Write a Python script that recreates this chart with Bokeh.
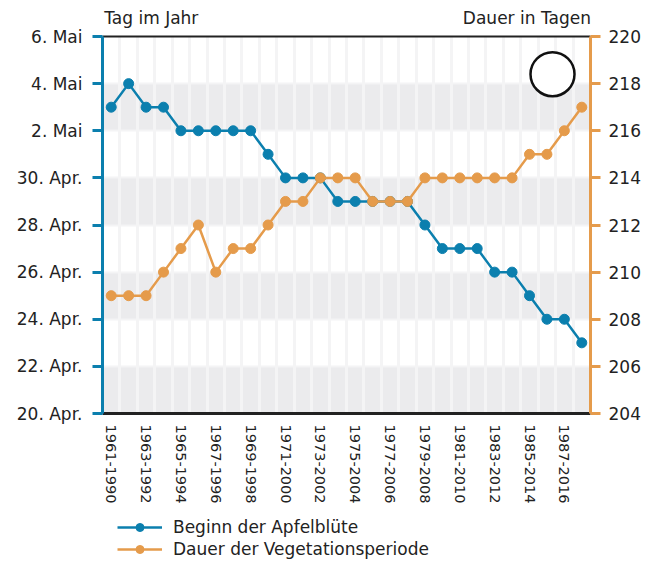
from bokeh.plotting import figure
from bokeh.layouts import column
from bokeh.models import Range1d, LinearAxis, FixedTicker, Legend, LegendItem, BoxAnnotation
from bokeh.embed import file_html
from bokeh.resources import INLINE

# ---- data ----
periods = ["1961-1990", "1962-1991", "1963-1992", "1964-1993", "1965-1994", "1966-1995",
           "1967-1996", "1968-1997", "1969-1998", "1970-1999", "1971-2000", "1972-2001",
           "1973-2002", "1974-2003", "1975-2004", "1976-2005", "1977-2006", "1978-2007",
           "1979-2008", "1980-2009", "1981-2010", "1982-2011", "1983-2012", "1984-2013",
           "1985-2014", "1986-2015", "1987-2016", "1988-2017"]
# Beginn der Apfelblüte, day of year (110 = 20. Apr., 126 = 6. Mai)
bluete = [123, 124, 123, 123, 122, 122, 122, 122, 122, 121, 120, 120, 120, 119,
          119, 119, 119, 119, 118, 117, 117, 117, 116, 116, 115, 114, 114, 113]
# Dauer der Vegetationsperiode, days
dauer = [209, 209, 209, 210, 211, 212, 210, 211, 211, 212, 213, 213, 214, 214,
         214, 213, 213, 213, 214, 214, 214, 214, 214, 214, 215, 215, 216, 217]
left_ticks = [110, 112, 114, 116, 118, 120, 122, 124, 126]
left_labels = ["20. Apr.", "22. Apr.", "24. Apr.", "26. Apr.", "28. Apr.",
               "30. Apr.", "2. Mai", "4. Mai", "6. Mai"]
right_ticks = [204, 206, 208, 210, 212, 214, 216, 218, 220]
right_labels = ["204", "206", "208", "210", "212", "214", "216", "218", "220"]
left_title = "Tag im Jahr"
right_title = "Dauer in Tagen"
series_names = ["Beginn der Apfelblüte", "Dauer der Vegetationsperiode"]
title_pos = [2.3, 23.85]          # x positions (category units) of the two axis titles
circle_x, circle_y, circle_r = [25.32], [218.4], 22

BLUE = "#0b7fae"
ORANGE = "#e59b4b"
TXT = "#222222"
FONT = "DejaVu Sans"

xs = list(range(len(periods)))

p = figure(width=645, height=510, x_range=Range1d(-0.5, len(periods) - 0.5),
           y_range=Range1d(left_ticks[0], left_ticks[-1]),
           output_backend="svg", toolbar_location=None,
           min_border_left=102, min_border_right=55, min_border_top=36, min_border_bottom=97)
p.extra_y_ranges = {"dauer": Range1d(right_ticks[0], right_ticks[-1])}
p.outline_line_color = None
p.background_fill_color = "white"
p.border_fill_color = "white"

# alternating bands
for lo, hi in zip(left_ticks[0::2], left_ticks[1::2]):
    p.add_layout(BoxAnnotation(bottom=lo, top=hi, fill_color="#ebebed", fill_alpha=1,
                               line_color=None, level="image"))

# grid lines
p.xgrid.ticker = FixedTicker(ticks=[i + 0.5 for i in xs[:-1]])
p.xgrid.grid_line_color = "#f4f4f5"
p.xgrid.grid_line_width = 3
p.xgrid.level = "underlay"
p.ygrid.ticker = FixedTicker(ticks=left_ticks)
p.ygrid.grid_line_color = "#f4f4f5"
p.ygrid.grid_line_width = 2
p.ygrid.level = "underlay"

# x axis (below)
xa = p.xaxis[0]
xa.ticker = FixedTicker(ticks=xs[::2])
xa.major_label_overrides = {i: periods[i] for i in xs[::2]}
xa.major_label_orientation = "vertical"
xa.axis_line_color = TXT
xa.axis_line_width = 3
xa.major_tick_line_color = None
xa.minor_tick_line_color = None
xa.major_label_standoff = 5
xa.major_label_text_font = FONT
xa.major_label_text_font_size = "14.5px"
xa.major_label_text_color = TXT

# left axis
ya = p.yaxis[0]
ya.ticker = FixedTicker(ticks=left_ticks)
ya.major_label_overrides = dict(zip(left_ticks, left_labels))
ya.axis_line_color = BLUE
ya.axis_line_width = 3
ya.major_tick_line_color = BLUE
ya.major_tick_line_width = 3
ya.major_tick_in = 0
ya.major_tick_out = 10
ya.minor_tick_line_color = None
ya.major_label_standoff = 10
ya.major_label_text_font = FONT
ya.major_label_text_font_size = "17px"
ya.major_label_text_color = TXT

# right axis
ra = LinearAxis(y_range_name="dauer", ticker=FixedTicker(ticks=right_ticks))
ra.major_label_overrides = dict(zip(right_ticks, right_labels))
ra.axis_line_color = ORANGE
ra.axis_line_width = 3
ra.major_tick_line_color = ORANGE
ra.major_tick_line_width = 3
ra.major_tick_in = 0
ra.major_tick_out = 10
ra.minor_tick_line_color = None
ra.major_label_standoff = 8
ra.major_label_text_font = FONT
ra.major_label_text_font_size = "17px"
ra.major_label_text_color = TXT
p.add_layout(ra, "right")

# top border + the two axis titles
ta = LinearAxis(ticker=FixedTicker(ticks=title_pos))
ta.major_label_overrides = dict(zip(title_pos, [left_title, right_title]))
ta.axis_line_color = TXT
ta.axis_line_width = 2
ta.major_tick_line_color = None
ta.minor_tick_line_color = None
ta.major_label_standoff = 3
ta.major_label_text_font = FONT
ta.major_label_text_font_size = "17px"
ta.major_label_text_color = TXT
p.add_layout(ta, "above")

# series (orange drawn on top)
p.line(xs, bluete, line_color=BLUE, line_width=2.5)
p.scatter(xs, bluete, size=10, fill_color=BLUE, line_color=BLUE)
p.line(xs, dauer, line_color=ORANGE, line_width=2.5, y_range_name="dauer")
p.scatter(xs, dauer, size=10, fill_color=ORANGE, line_color=ORANGE, y_range_name="dauer")

# decorative circle
p.circle(circle_x, circle_y, radius=circle_r, radius_units="screen", y_range_name="dauer",
         fill_color="white", line_color="#111111", line_width=2.5)

# legend strip (separate figure below the chart; its series lie outside its view)
q = figure(width=645, height=53, x_range=Range1d(0, 1), y_range=Range1d(0, 1),
           output_backend="svg", toolbar_location=None,
           min_border_left=0, min_border_right=0, min_border_top=0, min_border_bottom=0)
q.axis.visible = False
q.grid.visible = False
q.outline_line_color = None
q.border_fill_color = "white"
q.background_fill_color = "white"
lb = q.line(xs, bluete, line_color=BLUE, line_width=2.5)
sb = q.scatter(xs, bluete, size=10, fill_color=BLUE, line_color=BLUE)
lo_ = q.line(xs, dauer, line_color=ORANGE, line_width=2.5)
so_ = q.scatter(xs, dauer, size=10, fill_color=ORANGE, line_color=ORANGE)
legend = Legend(items=[LegendItem(label=series_names[0], renderers=[lb, sb]),
                       LegendItem(label=series_names[1], renderers=[lo_, so_])],
                location=(15, 4), orientation="vertical", border_line_color=None,
                background_fill_alpha=0, padding=0, margin=0, spacing=2,
                glyph_width=45, glyph_height=20, label_height=20, label_standoff=11,
                label_text_font=FONT, label_text_font_size="17px", label_text_color=TXT)
q.add_layout(legend)

open("out.html", "w").write(file_html(column(p, q, spacing=0), INLINE))
